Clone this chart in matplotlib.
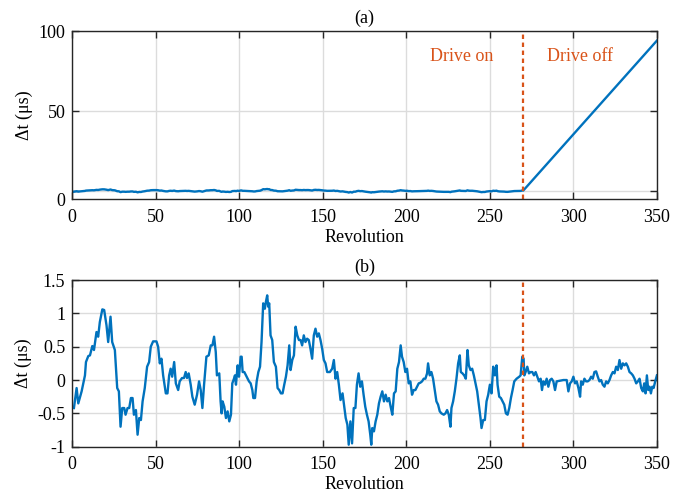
import numpy as np
import matplotlib.pyplot as plt
import matplotlib.transforms as mtransforms

plt.rcParams['font.family'] = ['Liberation Serif', 'DejaVu Serif']

# Revolution / time-offset readings for panel (b)
rev = [1.0, 2.6, 3.6, 5.6, 7.6, 8.2, 9.6, 10.6, 12.0, 13.0, 14.5, 15.5, 16.5, 18.0, 19.1,
       20.5, 21.5, 22.9, 23.9, 25.5, 26.9, 27.9, 28.9, 29.9, 31.1, 31.9, 33.1, 34.1, 35.1,
       36.1, 36.9, 38.1, 39.1, 40.1, 41.1, 42.1, 43.4, 44.8, 46.0, 47.0, 48.4, 50.4, 51.4,
       52.4, 53.4, 54.4, 56.0, 57.0, 58.0, 58.9, 59.8, 61.0, 62.0, 63.4, 64.3, 65.7, 66.9,
       67.9, 68.7, 69.7, 70.9, 71.9, 73.3, 74.7, 75.9, 76.9, 77.9, 78.9, 80.3, 81.7, 82.9,
       83.9, 84.9, 85.9, 86.6, 88.0, 88.8, 89.4, 90.0, 91.0, 92.0, 93.0, 94.0, 95.0, 95.8,
       96.8, 97.4, 98.0, 99.0, 99.8, 100.8, 101.4, 102.0, 103.0, 104.4, 105.8, 106.8, 107.8,
       108.4, 109.4, 110.4, 111.4, 112.4, 113.3, 114.3, 115.3, 115.9, 116.7, 117.3, 117.9,
       118.7, 119.7, 120.7, 121.9, 122.9, 123.9, 124.9, 125.9, 126.9, 127.9, 128.9, 129.9,
       130.7, 131.7, 132.7, 133.7, 134.7, 135.7, 136.7, 137.6, 138.6, 139.6, 140.6, 141.6,
       142.6, 143.6, 144.6, 145.6, 146.6, 147.6, 148.6, 149.6, 150.6, 151.6, 152.6, 154.2,
       155.6, 156.6, 157.6, 158.6, 159.6, 160.6, 161.8, 162.7, 163.7, 164.7, 165.5, 166.5,
       167.5, 168.5, 169.5, 170.4, 171.4, 172.4, 173.4, 174.4, 175.4, 176.4, 177.4, 178.4,
       179.0, 179.6, 180.6, 181.6, 182.6, 183.6, 184.6, 185.6, 186.6, 187.6, 188.6, 189.6,
       190.6, 191.6, 192.6, 193.6, 194.6, 195.6, 196.6, 197.4, 198.4, 199.4, 200.4, 201.4,
       202.4, 203.4, 204.4, 205.4, 206.4, 207.4, 208.4, 209.4, 210.4, 211.4, 212.4, 213.0,
       214.0, 215.0, 216.0, 217.0, 218.0, 219.0, 220.0, 221.0, 222.4, 223.4, 224.4, 225.4,
       226.4, 227.0, 228.0, 229.0, 230.0, 231.0, 232.0, 232.6, 233.6, 234.6, 235.6, 236.6,
       237.4, 238.4, 239.4, 240.4, 241.4, 242.4, 243.4, 244.4, 245.0, 246.0, 247.0, 248.0,
       249.0, 250.0, 251.0, 252.0, 253.0, 254.0, 254.6, 255.6, 256.6, 257.6, 258.6, 259.6,
       260.6, 261.6, 262.6, 263.6, 264.6, 266.0, 267.6, 268.4, 269.4, 270.2, 270.6, 271.4,
       272.4, 273.4, 274.4, 275.4, 276.4, 277.4, 278.4, 279.4, 280.4, 281.2, 282.0, 283.0,
       284.0, 285.0, 286.0, 287.0, 288.0, 289.0, 290.0, 292.0, 294.0, 296.0, 297.0, 298.0,
       299.0, 300.0, 301.0, 302.0, 303.0, 304.0, 304.6, 305.6, 306.6, 307.6, 308.6, 309.6,
       310.6, 311.6, 312.6, 313.6, 314.6, 315.6, 316.6, 317.6, 318.6, 319.6, 320.6, 321.6,
       322.6, 323.6, 324.6, 325.6, 326.6, 327.6, 328.6, 329.6, 330.6, 331.6, 332.6, 333.6,
       334.6, 335.6, 336.6, 337.6, 338.6, 339.6, 340.6, 341.6, 342.4, 343.2, 344.0, 344.8,
       345.6, 346.4, 347.2, 348.0, 349.0, 350.0]
dt = [-0.42, -0.12, -0.35, -0.17, 0.07, 0.27, 0.36, 0.37, 0.51, 0.45, 0.72, 0.65, 0.87, 1.06, 1.05,
      0.82, 0.57, 0.95, 0.57, 0.45, -0.12, -0.17, -0.70, -0.42, -0.42, -0.52, -0.42, -0.42, -0.27,
      -0.27, -0.52, -0.45, -0.82, -0.57, -0.60, -0.32, -0.12, 0.20, 0.27, 0.50, 0.58, 0.58, 0.50,
      0.25, 0.32, 0.07, -0.20, -0.20, 0.07, 0.17, 0.05, 0.27, -0.05, -0.15, -0.02, 0.03, 0.03,
      0.12, 0.03, 0.10, -0.07, -0.25, -0.37, -0.22, -0.02, -0.15, -0.42, -0.07, 0.35, 0.37, 0.52,
      0.52, 0.65, 0.42, 0.07, 0.10, -0.32, -0.50, -0.32, -0.40, -0.57, -0.47, -0.62, -0.52, -0.05,
      0.02, 0.07, -0.07, 0.22, 0.05, 0.35, 0.35, 0.12, 0.12, 0.05, -0.02, -0.05, -0.15,
      -0.27, -0.27, -0.02, 0.12, 0.20, 0.57, 1.15, 1.07, 1.17, 1.27, 1.10, 1.15,
      0.67, 0.60, 0.27, 0.20, -0.12, -0.15, -0.20, -0.20, -0.07, 0.05, 0.22, 0.52,
      0.15, 0.30, 0.37, 0.80, 0.67, 0.60, 0.60, 0.52, 0.67, 0.57, 0.62, 0.60,
      0.47, 0.32, 0.67, 0.77, 0.65, 0.70, 0.60, 0.47, 0.30, 0.25, 0.12, 0.12,
      0.17, 0.30, 0.02, 0.12, -0.07, -0.30, -0.20, -0.37, -0.57, -0.67, -0.97, -0.62,
      -0.95, -0.42, -0.42, -0.07, 0.10, -0.10, -0.02, -0.22, -0.40, -0.52, -0.62, -0.82,
      -0.97, -0.72, -0.77, -0.62, -0.52, -0.35, -0.25, -0.17, -0.32, -0.22, -0.32, -0.27,
      -0.40, -0.52, -0.20, -0.17, 0.17, 0.27, 0.52, 0.35, 0.27, 0.12, 0.17, -0.05,
      -0.02, -0.22, -0.15, -0.15, -0.10, -0.05, -0.04, -0.02, 0.02, 0.02, 0.10, 0.25,
      0.07, 0.12, 0.02, -0.15, -0.32, -0.37, -0.47, -0.50, -0.52, -0.50, -0.45, -0.52,
      -0.70, -0.42, -0.32, -0.17, 0.02, 0.25, 0.37, 0.12, 0.10, 0.07, 0.02, 0.45,
      0.22, 0.15, 0.17, 0.07, -0.05, -0.17, -0.37, -0.57, -0.72, -0.60, -0.60, -0.32,
      -0.22, -0.07, -0.20, 0.20, 0.07, 0.22, -0.07, -0.25, -0.27, -0.32, -0.37, -0.50,
      -0.52, -0.42, -0.27, -0.15, -0.02, 0.02, 0.05, 0.07, 0.35, 0.32, 0.07, 0.12,
      0.20, 0.10, 0.12, 0.12, 0.07, 0.12, 0.05, -0.02, 0.02, -0.15, -0.02, -0.07,
      0.02, -0.10, 0.00, 0.02, -0.02, -0.15, -0.02, -0.01, 0.00, 0.00, -0.17, -0.05,
      -0.02, 0.05, -0.05, -0.02, -0.12, -0.25, -0.02, -0.07, 0.02, -0.02, -0.02, 0.00,
      0.05, 0.02, 0.12, 0.13, 0.05, -0.02, 0.00, -0.07, -0.10, -0.02, -0.05, 0.00,
      0.07, 0.12, 0.10, 0.20, 0.15, 0.30, 0.17, 0.25, 0.22, 0.25, 0.20, 0.12,
      0.10, 0.07, 0.02, -0.05, -0.02, 0.02, -0.12, -0.17, -0.05, -0.20, 0.07, -0.15,
      -0.10, -0.20, -0.10, -0.12, -0.02, 0.07]

# drift once the drive is switched off (panel a)
drive_off_rev = [270, 350]
drive_off_dt = [0.3, 94]
switch_rev = 270

rev = np.array(rev)
dt = np.array(dt)
on = rev <= switch_rev
rev_a = np.concatenate([rev[on], drive_off_rev])
dt_a = np.concatenate([dt[on], drive_off_dt])

blue = '#0072BD'
orange = '#D95319'

fig = plt.figure(figsize=(6.85, 4.93), dpi=100)
ax1 = fig.add_axes([0.1055, 0.5963, 0.8535, 0.3408])
ax2 = fig.add_axes([0.1055, 0.0939, 0.8535, 0.3381])

ax1.plot(rev_a, dt_a, color=blue, linewidth=1.7)
ax1.set_ylim(-5, 100)
ax1.set_yticks([0, 50, 100])
ax1.text(233, 84, 'Drive on', color=orange, fontsize=13, ha='center', va='center')
ax1.text(304, 84, 'Drive off', color=orange, fontsize=13, ha='center', va='center')

ax2.plot(rev, dt, color=blue, linewidth=1.7)
ax2.set_ylim(-1, 1.5)
ax2.set_yticks([-1, -0.5, 0, 0.5, 1, 1.5])
ax2.set_yticklabels(['-1', '-0.5', '0', '0.5', '1', '1.5'])

for ax, tag in [(ax1, '(a)'), (ax2, '(b)')]:
    ax.axvline(switch_rev, color=orange, linestyle=(0, (2, 1.6)), linewidth=1.6)
    ax.set_xlim(0, 350)
    ax.set_xticks(np.arange(0, 351, 50))
    ax.grid(True, color='#DCDCDC', linewidth=1.0)
    ax.set_axisbelow(True)
    ax.tick_params(direction='in', top=True, right=True, length=5, width=1,
                   color='#262626', labelsize=13)
    ax.tick_params(axis='x', pad=7)
    ax.tick_params(axis='y', pad=5)
    for s in ax.spines.values():
        s.set_color('#262626')
        s.set_linewidth(1.0)
    ax.set_xlabel('Revolution', fontsize=13, labelpad=2)
    ax.set_ylabel('Δt (μs)', fontsize=13, labelpad=4)
    ax.set_title(tag, fontsize=13, pad=6)

# the "0" label of panel (a) sits at the bottom edge in the original
lbl0 = ax1.get_yticklabels()[0]
lbl0.set_transform(lbl0.get_transform() + mtransforms.ScaledTranslation(0, -8 / 100, fig.dpi_scale_trans))

fig.savefig('out.png', dpi=100)
